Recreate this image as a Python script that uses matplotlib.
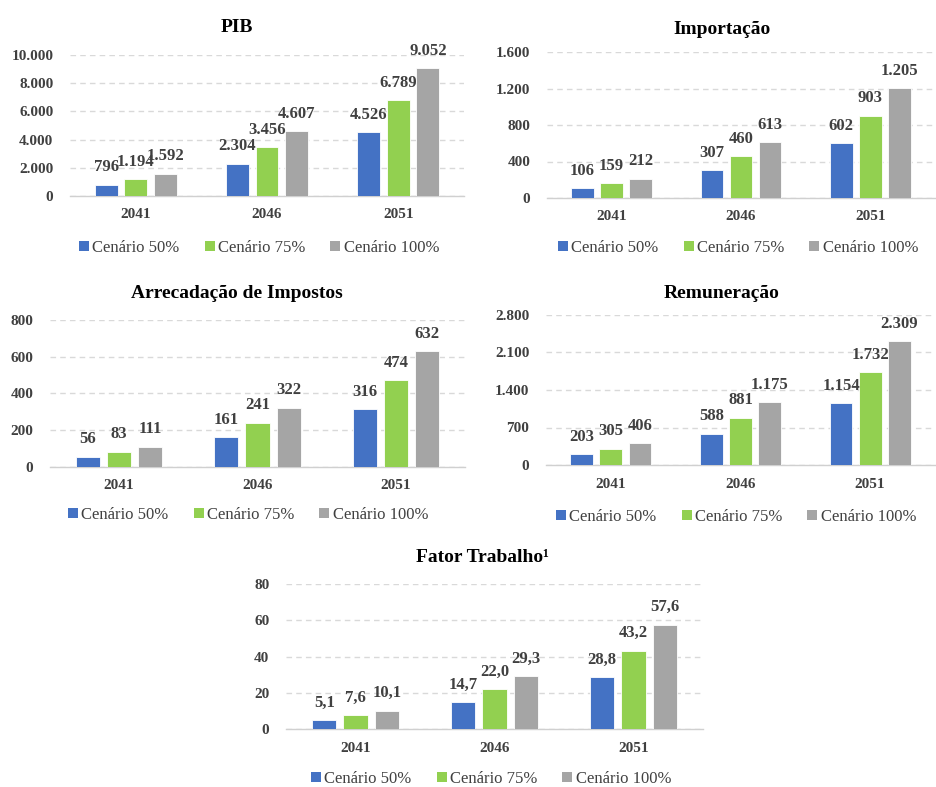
import matplotlib
matplotlib.use("Agg")
import matplotlib.pyplot as plt
import numpy as np
from matplotlib.patches import Patch

plt.rcParams['font.family'] = ['Liberation Serif', 'DejaVu Serif']

years = ["2041", "2046", "2051"]
scenarios = ["Cenário 50%", "Cenário 75%", "Cenário 100%"]
colors = ["#4472C4", "#92D050", "#A5A5A5"]

pib = [[796, 2304, 4526], [1194, 3456, 6789], [1592, 4607, 9052]]
importacao = [[106, 307, 602], [159, 460, 903], [212, 613, 1205]]
impostos = [[56, 161, 316], [83, 241, 474], [111, 322, 632]]
remuneracao = [[203, 588, 1154], [305, 881, 1732], [406, 1175, 2309]]
fator = [[5.1, 14.7, 28.8], [7.6, 22.0, 43.2], [10.1, 29.3, 57.6]]

W, H = 937, 787
fig = plt.figure(figsize=(W / 100, H / 100), dpi=100)
fig.patch.set_facecolor("white")


def fmt_int(v):
    return f"{int(round(v)):,}".replace(",", ".")


def fmt_dec(v):
    return f"{v:.1f}".replace(".", ",")


def panel(title, series, ticks, fmt, box, title_xy, legend_xy):
    x0, x1, y0, y1 = box  # pixel coords: left, right, baseline, top tick
    ax = fig.add_axes([x0 / W, 1 - y0 / H, (x1 - x0) / W, (y0 - y1) / H])
    n = len(years)
    idx = np.arange(n)
    width = 0.175
    offsets = [-0.225, 0.0, 0.225]
    for k, vals in enumerate(series):
        bars = ax.bar(idx + offsets[k], vals, width, color=colors[k],
                      edgecolor="white", linewidth=0.6, zorder=3)
        for b, v in zip(bars, vals):
            ax.annotate(fmt(v), (b.get_x() + b.get_width() / 2, v),
                        xytext=(0, 12.5), textcoords="offset points",
                        ha="center", va="center", fontsize=12,
                        fontweight="bold", color="#404040",
                        annotation_clip=False, zorder=4)
    ax.set_xlim(-0.5, n - 0.5)
    ax.set_ylim(ticks[0], ticks[-1])
    ax.set_yticks(ticks)
    ax.set_yticklabels([fmt_int(t) for t in ticks])
    ax.set_xticks(idx)
    ax.set_xticklabels(years)
    for s in ["left", "right", "top"]:
        ax.spines[s].set_visible(False)
    ax.spines["bottom"].set_color("#D0D0D0")
    ax.spines["bottom"].set_linewidth(1.0)
    ax.tick_params(axis="both", length=0, labelsize=11, labelcolor="#404040")
    for lab in ax.get_yticklabels() + ax.get_xticklabels():
        lab.set_fontweight("bold")
    ax.tick_params(axis="y", pad=12)
    ax.tick_params(axis="x", pad=9)
    ax.yaxis.grid(True, color="#D9D9D9", linestyle=(0, (4, 3)), linewidth=1.0, zorder=0)
    ax.set_axisbelow(True)
    ax.set_facecolor("none")
    fig.text(title_xy[0] / W, 1 - title_xy[1] / H, title, ha="center",
             va="center", fontsize=14, fontweight="bold", color="black")
    handles = [Patch(facecolor=c, edgecolor="none") for c in colors]
    fig.legend(handles, scenarios, loc="center",
               bbox_to_anchor=(legend_xy[0] / W, 1 - legend_xy[1] / H),
               ncol=3, frameon=False, fontsize=12, handlelength=0.6,
               handleheight=0.6, handletextpad=0.2, columnspacing=1.5,
               labelcolor="#404040")
    return ax


panel("PIB", pib, [0, 2000, 4000, 6000, 8000, 10000], fmt_int,
      (70, 464, 196, 55), (237, 28), (259, 248))
panel("Importação", importacao, [0, 400, 800, 1200, 1600], fmt_int,
      (547, 935, 198, 52), (722, 29), (738, 248))
panel("Arrecadação de Impostos", impostos, [0, 200, 400, 600, 800], fmt_int,
      (50, 465, 467, 320), (237, 293), (248, 515))
panel("Remuneração", remuneracao, [0, 700, 1400, 2100, 2800], fmt_int,
      (546, 935, 465, 315), (722, 293), (736, 517))
panel("Fator Trabalho\u00b9", fator, [0, 20, 40, 60, 80], fmt_dec,
      (286, 703, 729, 584), (482, 557), (491, 779))

fig.savefig("out.png", dpi=100, facecolor="white")
